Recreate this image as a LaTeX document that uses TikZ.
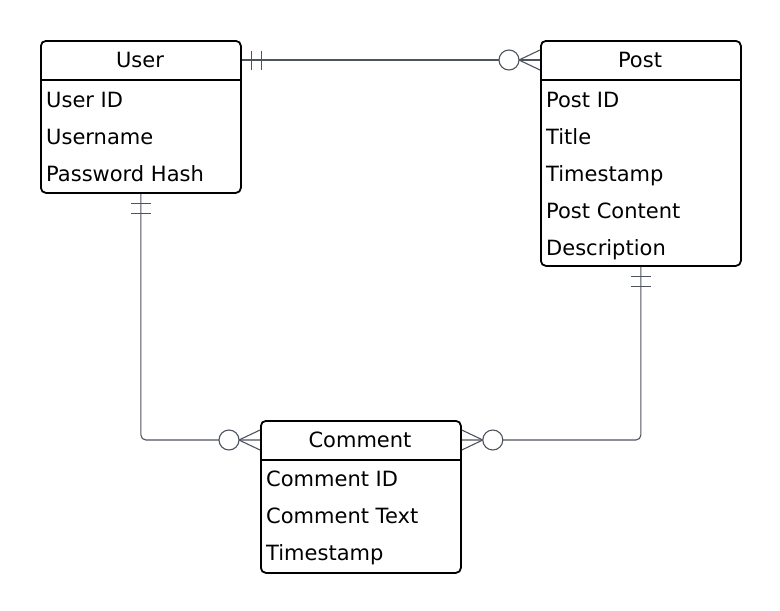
\documentclass[tikz,border=0pt]{standalone}
\usepackage{fontspec}
\setmainfont{DejaVu Sans}
\usetikzlibrary{calc}
\definecolor{linkgray}{RGB}{78,83,94}
\tikzset{
  entity/.style={draw=black, line width=1.8pt, rounded corners=5pt, minimum width=200pt, inner sep=0pt, anchor=north west},
  divider/.style={draw=black, line width=1.8pt},
  title/.style={anchor=base, inner sep=0pt, font=\fontsize{21}{25}\selectfont},
  attr/.style={anchor=base west, inner sep=0pt, font=\fontsize{21}{25}\selectfont},
  link/.style={draw=linkgray, line width=1.1pt},
}
\begin{document}
\begin{tikzpicture}[x=1pt,y=-1pt]
\useasboundingbox (0,0) rectangle (780,611);

% boxes
\node[entity, minimum height=152pt] (user) at (40,40) {};
\node[entity, minimum height=225pt] (post) at (540,40) {};
\node[entity, minimum height=152pt] (comment) at (260,420) {};

\path[divider] ([yshift=-40pt]user.north west) -- ([yshift=-40pt]user.north east);
\path[divider] ([yshift=-40pt]post.north west) -- ([yshift=-40pt]post.north east);
\path[divider] ([yshift=-40pt]comment.north west) -- ([yshift=-40pt]comment.north east);

% titles
\node[title] (usertitle) at (140,67.5) {User};
\node[title] (posttitle) at (640,67.5) {Post};
\node[title] (commenttitle) at (360,447.5) {Comment};

% attributes
\node[attr] (userid) at (46,107) {User ID};
\node[attr] (username) at (46,144) {Username};
\node[attr] (userhash) at (46,181) {Password Hash};

\node[attr] (postid) at (546,107) {Post ID};
\node[attr] (posttitlefield) at (546,144) {Title};
\node[attr] (poststamp) at (546,181) {Timestamp};
\node[attr] (postcontent) at (546,218) {Post Content};
\node[attr] (postdesc) at (546,255) {Description};

\node[attr] (commentid) at (266,486) {Comment ID};
\node[attr] (commenttext) at (266,523) {Comment Text};
\node[attr] (commentstamp) at (266,560) {Timestamp};

% connector ends
\coordinate (up1) at ([yshift=-20pt]user.north east);
\coordinate (up2) at ([yshift=-20pt]post.north west);
\coordinate (uc1) at (user.south);
\coordinate (uc2) at ([yshift=-20pt]comment.north west);
\coordinate (pc1) at (post.south);
\coordinate (pc2) at ([yshift=-20pt]comment.north east);

% connectors
\path[link] (up1) -- (up2);
\path[link, rounded corners=5pt] (uc1) -- (uc1 |- uc2) -- (uc2);
\path[link, rounded corners=5pt] (pc1) -- (pc1 |- pc2) -- (pc2);

% one and only one
\foreach \d in {10,20} {
  \path[link] ($(up1)+(\d,-9.5)$) -- ($(up1)+(\d,9.5)$);
  \path[link] ($(uc1)+(-10,\d)$) -- ($(uc1)+(10,\d)$);
  \path[link] ($(pc1)+(-10,\d)$) -- ($(pc1)+(10,\d)$);
}

% zero or many
\path[link] ($(up2)+(-21,0)$) -- ($(up2)+(0,-10)$) ($(up2)+(-21,0)$) -- ($(up2)+(0,10)$);
\path[link, fill=white] ($(up2)+(-31,0)$) circle[radius=10pt];
\path[link] ($(uc2)+(-21,0)$) -- ($(uc2)+(0,-10)$) ($(uc2)+(-21,0)$) -- ($(uc2)+(0,10)$);
\path[link, fill=white] ($(uc2)+(-31,0)$) circle[radius=10pt];
\path[link] ($(pc2)+(21,0)$) -- ($(pc2)+(0,-10)$) ($(pc2)+(21,0)$) -- ($(pc2)+(0,10)$);
\path[link, fill=white] ($(pc2)+(31,0)$) circle[radius=10pt];
\end{tikzpicture}
\end{document}
